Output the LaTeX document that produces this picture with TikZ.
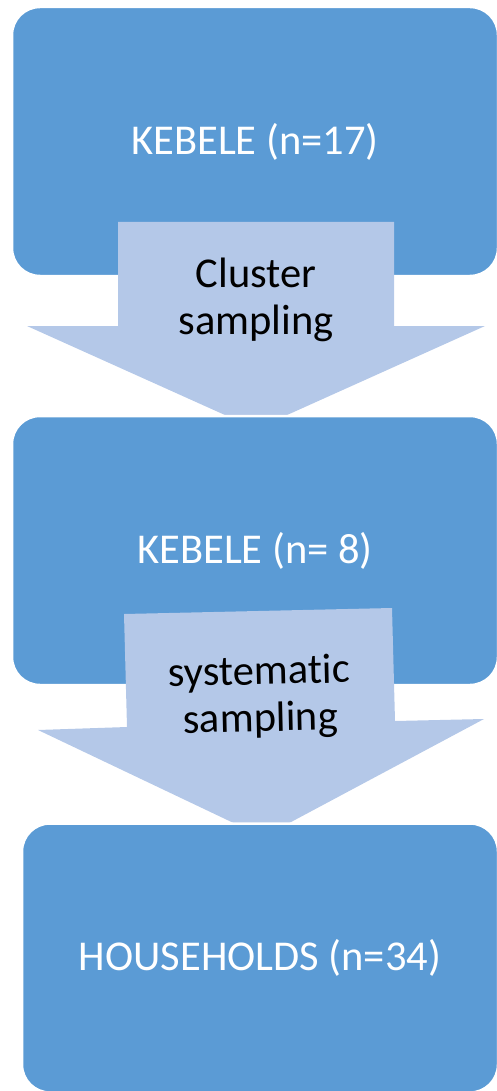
\documentclass[tikz,border=0pt]{standalone}
\usepackage{fontspec}
\setmainfont{Carlito}[Ligatures=NoCommon]
\definecolor{boxblue}{HTML}{5B9BD5}
\definecolor{arrowblue}{HTML}{B4C8E8}
\begin{document}
\begin{tikzpicture}[x=1pt,y=-1pt,
  stagebox/.style={fill=boxblue, draw=white, line width=2.5pt, rounded corners=28pt,
    inner sep=0pt, outer sep=0pt, text=white,
    font=\fontsize{42.5}{48}\selectfont},
  blockarrow/.style={fill=arrowblue, draw=none},
  arrowlabel/.style={align=center, text=black, inner sep=0pt,
    font=\fontsize{42.5}{47}\selectfont}]
\useasboundingbox (0,0) rectangle (496,1091);

% first stage
\node[stagebox, minimum width=486pt, minimum height=269pt] (k17) at (255,141.5) {KEBELE (n=17)};

% first block arrow
\fill[blockarrow] (118,222) -- (394,222) -- (394,326) -- (485,326) -- (256,429)
  -- (27,326) -- (118,326) -- cycle;
\node[arrowlabel] (cluster) at (256,300) {Cluster\\sampling};

% second stage
\node[stagebox, minimum width=486pt, minimum height=269pt] (k8) at (255,550.5) {KEBELE (n=~8)};

% second block arrow, slightly tilted
\fill[blockarrow] (124,614) -- (392,608) -- (395,721) -- (484,719) -- (263,837)
  -- (38,730) -- (127,727) -- cycle;
\node[arrowlabel, rotate=1.3] (systematic) at (260,697) {systematic\\sampling};

% final stage
\node[stagebox, minimum width=476pt, minimum height=269pt] (hh) at (260,958) {HOUSEHOLDS (n=34)};
\end{tikzpicture}
\end{document}
